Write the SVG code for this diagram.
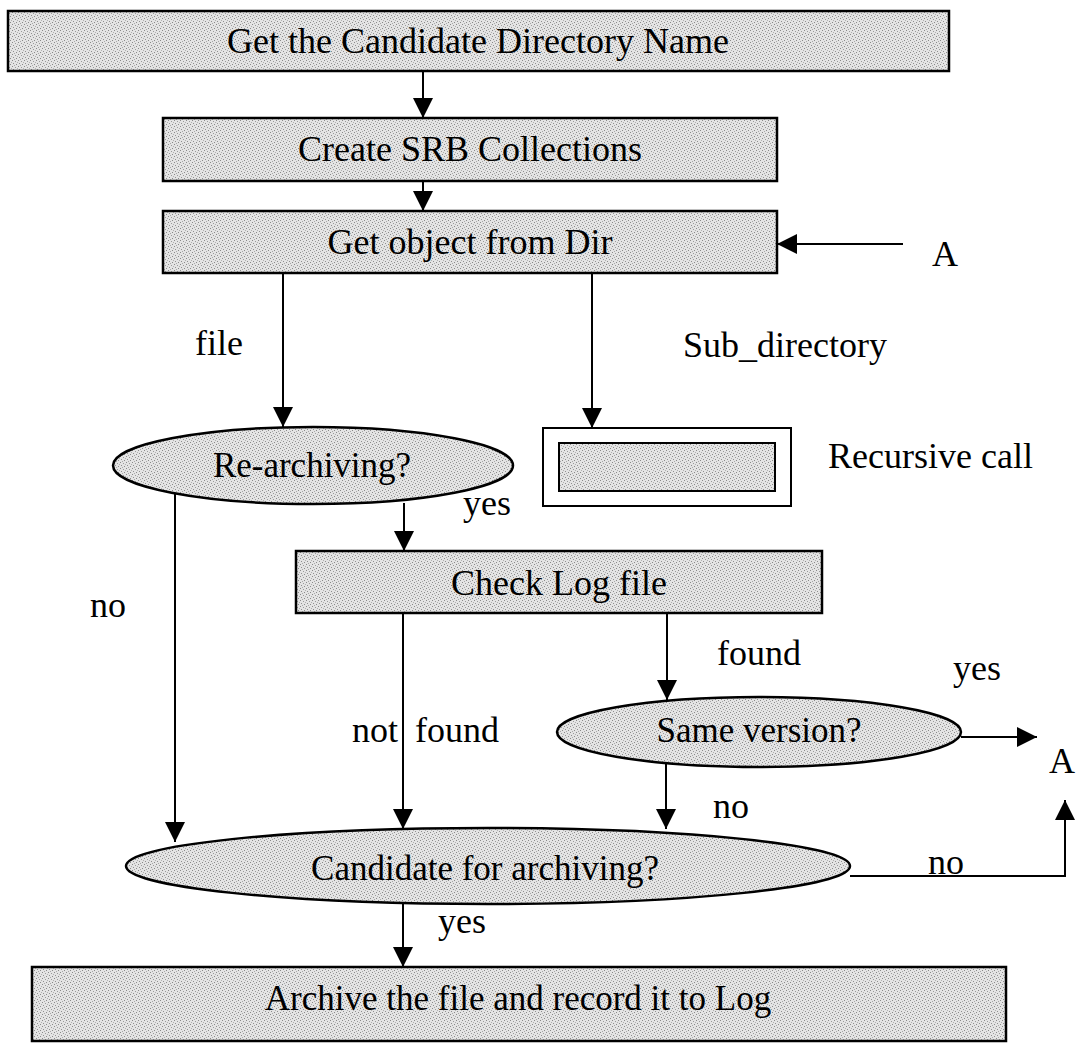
<svg xmlns="http://www.w3.org/2000/svg" width="1076" height="1043" viewBox="0 0 1076 1043">
<style>
text{font-family:"Liberation Serif","Times New Roman",serif;fill:#000}
.t{font-size:36px}
.e{font-size:35px}
.box{fill:url(#stip);stroke:#000;stroke-width:2.5}
.plain{fill:#fff;stroke:#000;stroke-width:2}
.ln{fill:none;stroke:#000;stroke-width:2}
</style>
<defs>
<pattern id="stip" width="6" height="6" patternUnits="userSpaceOnUse">
<rect width="6" height="6" fill="#e4e4e4"/>
<rect x="0" y="0" width="1" height="1" fill="#8a8a8a"/>
<rect x="3" y="1" width="1" height="1" fill="#9a9a9a"/>
<rect x="1" y="3" width="1" height="1" fill="#909090"/>
<rect x="4" y="4" width="1" height="1" fill="#8a8a8a"/>
<rect x="5" y="2" width="1" height="1" fill="#b0b0b0"/>
<rect x="2" y="5" width="1" height="1" fill="#a8a8a8"/>
</pattern>
<marker id="ah" markerUnits="userSpaceOnUse" markerWidth="20" markerHeight="20" refX="20" refY="10" orient="auto">
<path d="M0,0 L20,10 L0,20 Z" fill="#000"/>
</marker>
</defs>
<g id="connectors">
<line class="ln" x1="423" y1="71" x2="423" y2="118" marker-end="url(#ah)"/>
<line class="ln" x1="423" y1="181" x2="423" y2="211" marker-end="url(#ah)"/>
<line class="ln" x1="903" y1="244" x2="777" y2="244" marker-end="url(#ah)"/>
<line class="ln" x1="283" y1="273" x2="283" y2="427" marker-end="url(#ah)"/>
<line class="ln" x1="592" y1="273" x2="592" y2="428" marker-end="url(#ah)"/>
<line class="ln" x1="404" y1="503" x2="404" y2="551" marker-end="url(#ah)"/>
<line class="ln" x1="175" y1="490" x2="175" y2="842" marker-end="url(#ah)"/>
<line class="ln" x1="403" y1="613" x2="403" y2="829" marker-end="url(#ah)"/>
<line class="ln" x1="667" y1="614" x2="667" y2="700" marker-end="url(#ah)"/>
<line class="ln" x1="666" y1="752" x2="666" y2="829" marker-end="url(#ah)"/>
<line class="ln" x1="961" y1="737" x2="1037" y2="737" marker-end="url(#ah)"/>
<polyline class="ln" points="850,876 1065,876 1065,800" marker-end="url(#ah)"/>
<line class="ln" x1="403" y1="904" x2="403" y2="967" marker-end="url(#ah)"/>
</g>
<g id="n-get-dir">
<rect class="box" x="8" y="11" width="941" height="60"/>
<text class="t" x="478" y="53" text-anchor="middle">Get the Candidate Directory Name</text>
</g>
<g id="n-create">
<rect class="box" x="163" y="118" width="614" height="63"/>
<text class="t" x="470" y="161" text-anchor="middle">Create SRB Collections</text>
</g>
<g id="n-get-obj">
<rect class="box" x="163" y="211" width="614" height="62"/>
<text class="t" x="470" y="254" text-anchor="middle">Get object from Dir</text>
</g>
<g id="n-recursive">
<rect class="plain" x="543" y="428" width="248" height="78"/>
<rect class="box" x="559" y="443" width="216" height="48" style="stroke-width:2"/>
</g>
<g id="n-rearch">
<ellipse class="box" cx="313" cy="465.5" rx="200" ry="38.5"/>
<text class="e" x="312" y="477" text-anchor="middle">Re-archiving?</text>
</g>
<g id="n-checklog">
<rect class="box" x="296" y="551" width="526" height="62"/>
<text class="t" x="559" y="595" text-anchor="middle">Check Log file</text>
</g>
<g id="n-same">
<ellipse class="box" cx="759" cy="732" rx="202" ry="35"/>
<text class="e" x="759" y="742" text-anchor="middle">Same version?</text>
</g>
<g id="n-candidate">
<ellipse class="box" cx="488" cy="866" rx="362" ry="38"/>
<text class="e" x="485" y="880" text-anchor="middle">Candidate for archiving?</text>
</g>
<g id="n-archive">
<rect class="box" x="32" y="967" width="974" height="74"/>
<text class="e" x="518" y="1010" text-anchor="middle">Archive the file and record it to Log</text>
</g>
<g id="labels">
<text class="t" x="932" y="266">A</text>
<text class="t" x="1049" y="773">A</text>
<text class="t" x="195" y="355">file</text>
<text class="t" x="683" y="357">Sub_directory</text>
<text class="t" x="828" y="468">Recursive call</text>
<text class="t" x="463" y="515">yes</text>
<text class="t" x="90" y="617">no</text>
<text class="t" x="717" y="665">found</text>
<text class="t" x="953" y="680">yes</text>
<text class="t" y="742"><tspan x="352">not</tspan><tspan x="415">found</tspan></text>
<text class="t" x="713" y="818">no</text>
<text class="t" x="928" y="874">no</text>
<text class="t" x="438" y="933">yes</text>
</g>
</svg>
